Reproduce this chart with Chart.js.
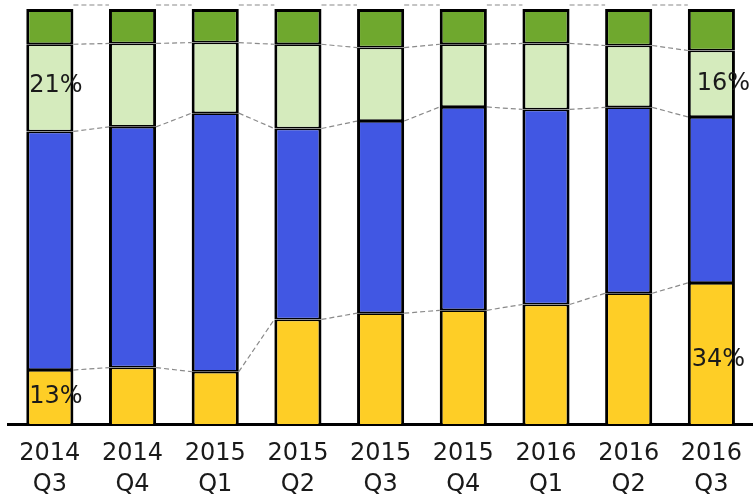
<!DOCTYPE html>
<html>
<head>
<meta charset="utf-8">
<script src="https://cdn.jsdelivr.net/npm/chart.js@4"></script>
<style>
  html, body { margin: 0; padding: 0; background: #ffffff; overflow: hidden; }
  #wrap { width: 756px; height: 497px; }
</style>
</head>
<body>
<div id="wrap"><canvas id="chart"></canvas></div>
<script>
// Quarter labels (two lines each)
const quarters = [
  ['2014', 'Q3'], ['2014', 'Q4'], ['2015', 'Q1'], ['2015', 'Q2'], ['2015', 'Q3'],
  ['2015', 'Q4'], ['2016', 'Q1'], ['2016', 'Q2'], ['2016', 'Q3']
];

// Share of each segment per quarter, in percent (bottom to top)
const shareYellow     = [13.0, 13.6, 12.6, 25.2, 26.7, 27.4, 28.8, 31.5, 34.0];
const shareBlue       = [57.5, 58.0, 62.3, 46.0, 46.3, 49.0, 47.0, 44.8, 40.0];
const shareLightGreen = [21.0, 20.1, 17.0, 20.3, 17.7, 15.1, 15.9, 14.9, 16.0];
const shareDarkGreen  = [ 8.5,  8.3,  8.1,  8.5,  9.3,  8.5,  8.3,  8.8, 10.0];

// Segments that carry a percentage label: [dataset index, quarter index, dx, dy]
const labelledSegments = [
  [0, 0, 6, 0],
  [2, 0, 6, -2],
  [0, 8, 7, 6],
  [2, 8, 12, 0]
];

const FONT = "'DejaVu Sans', Verdana, sans-serif";
const TEXT = '#1a1a1a';

// Dashed lines joining matching segment boundaries of neighbouring bars
const connectorPlugin = {
  id: 'connectors',
  beforeDatasetsDraw(chart) {
    const ctx = chart.ctx;
    const n = chart.data.labels.length;
    ctx.save();
    ctx.strokeStyle = '#8a8a8a';
    ctx.lineWidth = 1.2;
    ctx.setLineDash([5, 3]);
    for (let d = 0; d < chart.data.datasets.length; d++) {
      const meta = chart.getDatasetMeta(d);
      const isTop = d === chart.data.datasets.length - 1;
      for (let i = 0; i < n - 1; i++) {
        const a = meta.data[i], b = meta.data[i + 1];
        const ya = isTop ? a.y - 4 : a.y;
        const yb = isTop ? b.y - 4 : b.y;
        ctx.beginPath();
        ctx.moveTo(a.x + a.width / 2, ya);
        ctx.lineTo(b.x - b.width / 2, yb);
        ctx.stroke();
      }
    }
    ctx.restore();
  }
};

// Percentage text inside selected segments
const segmentLabelPlugin = {
  id: 'segmentLabels',
  afterDatasetsDraw(chart) {
    const ctx = chart.ctx;
    ctx.save();
    ctx.font = '24px ' + FONT;
    ctx.fillStyle = TEXT;
    ctx.textAlign = 'center';
    ctx.textBaseline = 'middle';
    labelledSegments.forEach(([d, i, dx, dy]) => {
      const el = chart.getDatasetMeta(d).data[i];
      const v = chart.data.datasets[d].data[i];
      ctx.fillText(Math.round(v) + '%', el.x + dx, (el.y + el.base) / 2 + dy);
    });
    ctx.restore();
  }
};

const barStyle = {
  borderColor: '#000000',
  borderSkipped: false,
  barPercentage: 0.57,
  categoryPercentage: 1.0
};

new Chart(document.getElementById('chart'), {
  type: 'bar',
  data: {
    labels: quarters,
    datasets: [
      Object.assign({ label: 'Yellow', data: shareYellow, backgroundColor: '#fece26',
        borderWidth: { top: 1.75, bottom: 0, left: 3, right: 3 } }, barStyle),
      Object.assign({ label: 'Blue', data: shareBlue, backgroundColor: '#4157e3',
        borderWidth: { top: 1.75, bottom: 1.75, left: 3, right: 3 } }, barStyle),
      Object.assign({ label: 'Light green', data: shareLightGreen, backgroundColor: '#d5ebbd',
        borderWidth: { top: 1.75, bottom: 1.75, left: 3, right: 3 } }, barStyle),
      Object.assign({ label: 'Dark green', data: shareDarkGreen, backgroundColor: '#6fa82e',
        borderWidth: { top: 3, bottom: 1.75, left: 3, right: 3 } }, barStyle)
    ]
  },
  options: {
    responsive: true,
    maintainAspectRatio: false,
    animation: false,
    layout: { padding: { left: 8.5, right: 1.6, top: 9, bottom: 0 } },
    plugins: {
      legend: { display: false },
      tooltip: { enabled: false }
    },
    scales: {
      x: {
        stacked: true,
        grid: { display: false, drawTicks: false },
        border: { display: true, color: '#000000', width: 3 },
        ticks: {
          color: TEXT,
          font: { family: FONT, size: 24, lineHeight: 1.3 },
          padding: 14,
          maxRotation: 0,
          autoSkip: false
        },
        afterFit(scale) { scale.height = 73; }
      },
      y: {
        stacked: true,
        display: false,
        min: 0,
        max: 100
      }
    }
  },
  plugins: [connectorPlugin, segmentLabelPlugin]
});
</script>
</body>
</html>
